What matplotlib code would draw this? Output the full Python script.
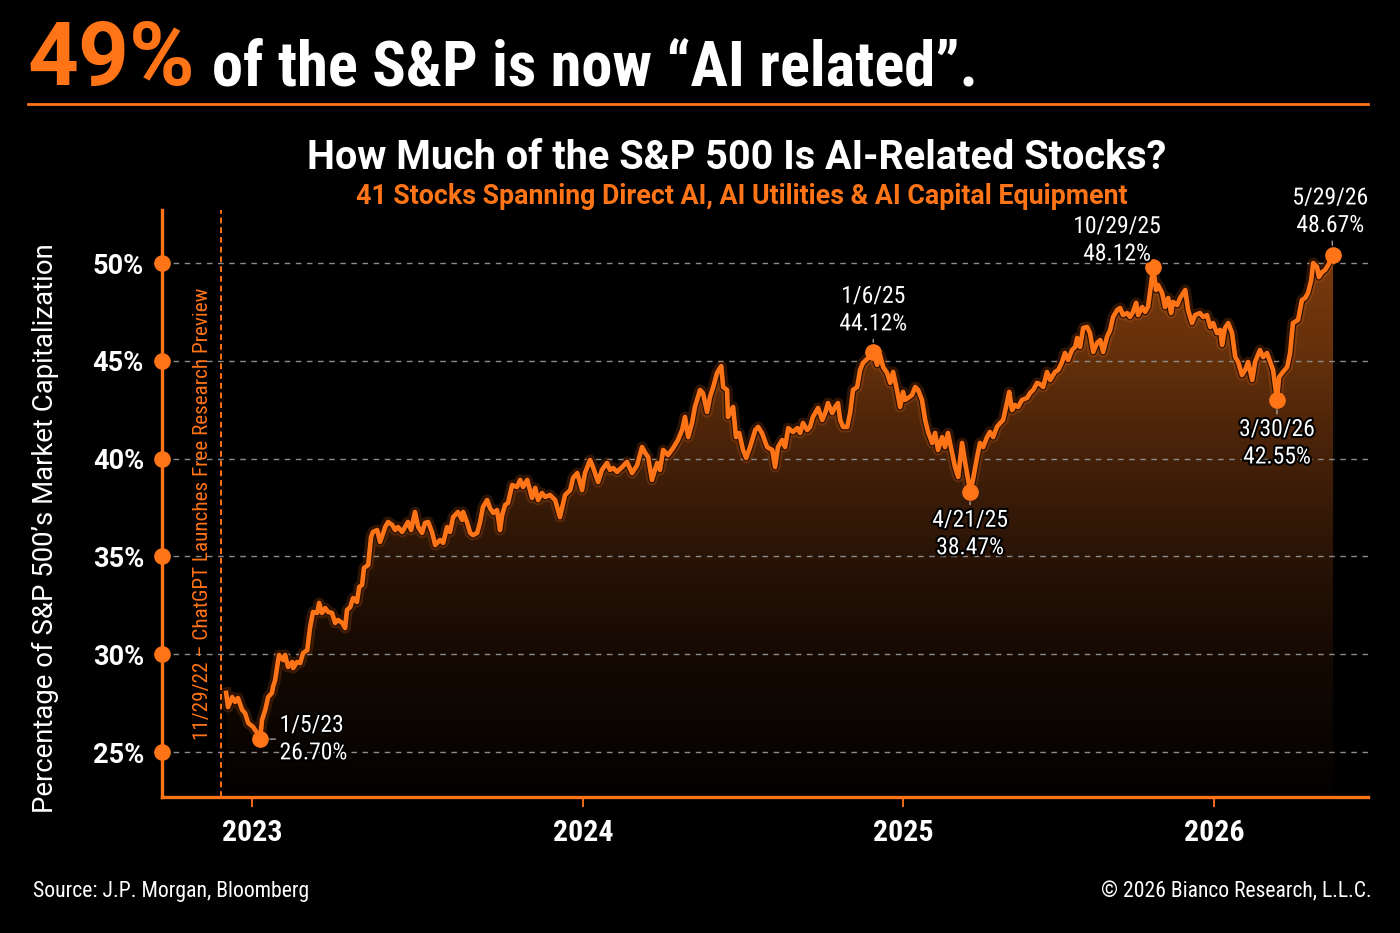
import numpy as np
import matplotlib
matplotlib.use('Agg')
import matplotlib.pyplot as plt
from matplotlib.lines import Line2D
from matplotlib.patches import PathPatch
from matplotlib.path import Path
import matplotlib.patheffects as pe
from matplotlib.colors import LinearSegmentedColormap

# ---------------- data ----------------
t_years = [
    2022.919, 2022.925, 2022.938, 2022.947, 2022.956, 2022.969, 2022.978, 2022.988, 2023.003, 2023.016,
    2023.025, 2023.031, 2023.041, 2023.050, 2023.062, 2023.065, 2023.072, 2023.078, 2023.084, 2023.097,
    2023.103, 2023.112, 2023.125, 2023.128, 2023.140, 2023.150, 2023.159, 2023.172, 2023.181, 2023.190,
    2023.203, 2023.209, 2023.218, 2023.228, 2023.237, 2023.249, 2023.259, 2023.268, 2023.281, 2023.290,
    2023.296, 2023.306, 2023.315, 2023.327, 2023.334, 2023.343, 2023.349, 2023.362, 2023.371, 2023.377,
    2023.390, 2023.399, 2023.409, 2023.415, 2023.424, 2023.437, 2023.446, 2023.455, 2023.468, 2023.477,
    2023.486, 2023.496, 2023.508, 2023.518, 2023.530, 2023.539, 2023.549, 2023.561, 2023.571, 2023.586,
    2023.596, 2023.608, 2023.617, 2023.627, 2023.642, 2023.655, 2023.658, 2023.670, 2023.680, 2023.689,
    2023.702, 2023.711, 2023.720, 2023.733, 2023.742, 2023.752, 2023.764, 2023.773, 2023.780, 2023.789,
    2023.798, 2023.811, 2023.826, 2023.836, 2023.845, 2023.858, 2023.873, 2023.883, 2023.892, 2023.904,
    2023.914, 2023.929, 2023.945, 2023.960, 2023.976, 2023.992, 2024.001, 2024.014, 2024.029, 2024.038,
    2024.054, 2024.063, 2024.079, 2024.091, 2024.107, 2024.116, 2024.126, 2024.138, 2024.154, 2024.169,
    2024.185, 2024.201, 2024.216, 2024.226, 2024.235, 2024.247, 2024.263, 2024.272, 2024.282, 2024.297,
    2024.313, 2024.328, 2024.341, 2024.350, 2024.360, 2024.372, 2024.381, 2024.397, 2024.406, 2024.419,
    2024.428, 2024.438, 2024.450, 2024.463, 2024.469, 2024.481, 2024.484, 2024.500, 2024.509, 2024.519,
    2024.531, 2024.541, 2024.553, 2024.569, 2024.578, 2024.590, 2024.606, 2024.622, 2024.631, 2024.640,
    2024.653, 2024.662, 2024.672, 2024.687, 2024.700, 2024.709, 2024.718, 2024.731, 2024.740, 2024.749,
    2024.765, 2024.778, 2024.787, 2024.796, 2024.809, 2024.818, 2024.827, 2024.834, 2024.843, 2024.856,
    2024.865, 2024.874, 2024.887, 2024.896, 2024.905, 2024.921, 2024.937, 2024.949, 2024.958, 2024.968,
    2024.980, 2024.990, 2024.999, 2025.011, 2025.021, 2025.030, 2025.036, 2025.046, 2025.058, 2025.068,
    2025.077, 2025.089, 2025.099, 2025.108, 2025.121, 2025.130, 2025.139, 2025.152, 2025.161, 2025.170,
    2025.183, 2025.192, 2025.202, 2025.214, 2025.224, 2025.233, 2025.239, 2025.248, 2025.261, 2025.270,
    2025.280, 2025.292, 2025.301, 2025.311, 2025.323, 2025.333, 2025.342, 2025.354, 2025.361, 2025.370,
    2025.379, 2025.389, 2025.401, 2025.417, 2025.426, 2025.436, 2025.448, 2025.457, 2025.467, 2025.479,
    2025.489, 2025.504, 2025.514, 2025.526, 2025.535, 2025.545, 2025.557, 2025.567, 2025.573, 2025.582,
    2025.592, 2025.604, 2025.613, 2025.623, 2025.635, 2025.645, 2025.654, 2025.666, 2025.676, 2025.685,
    2025.698, 2025.707, 2025.716, 2025.729, 2025.738, 2025.747, 2025.757, 2025.763, 2025.776, 2025.785,
    2025.794, 2025.804, 2025.810, 2025.819, 2025.825, 2025.838, 2025.847, 2025.857, 2025.866, 2025.872,
    2025.885, 2025.894, 2025.910, 2025.919, 2025.931, 2025.941, 2025.956, 2025.966, 2025.978, 2025.988,
    2025.997, 2026.009, 2026.019, 2026.025, 2026.034, 2026.044, 2026.056, 2026.066, 2026.075, 2026.087,
    2026.097, 2026.106, 2026.119, 2026.128, 2026.143, 2026.153, 2026.165, 2026.175, 2026.184, 2026.196,
    2026.203, 2026.215, 2026.228, 2026.237, 2026.246, 2026.262, 2026.274, 2026.284, 2026.293, 2026.303,
    2026.309, 2026.321, 2026.327, 2026.337, 2026.346, 2026.356, 2026.371,
]
pct = [
    28.02, 27.30, 27.81, 27.56, 27.76, 27.15, 26.99, 26.48, 26.28, 25.97,
    25.66, 26.64, 27.15, 27.81, 28.02, 28.32, 28.68, 29.35, 29.96, 29.70,
    29.96, 29.35, 29.60, 29.29, 29.60, 29.55, 30.06, 30.21, 31.39, 32.16,
    32.11, 32.62, 32.11, 32.36, 32.16, 32.11, 31.60, 31.75, 31.60, 31.34,
    32.26, 32.41, 32.87, 32.67, 33.44, 33.54, 34.41, 34.56, 35.99, 36.25,
    36.35, 35.74, 36.20, 36.50, 36.76, 36.61, 36.35, 36.50, 36.25, 36.50,
    36.76, 36.35, 37.27, 36.50, 36.20, 36.71, 36.76, 36.25, 35.58, 35.84,
    35.69, 36.50, 36.25, 37.01, 37.27, 36.86, 37.27, 36.76, 36.20, 36.09,
    36.20, 36.76, 37.53, 37.88, 37.47, 37.22, 37.37, 36.35, 37.12, 37.63,
    37.73, 38.65, 38.55, 38.91, 38.55, 38.91, 37.99, 38.50, 37.88, 38.24,
    38.04, 38.14, 37.88, 37.01, 38.14, 38.39, 39.01, 39.26, 38.39, 39.26,
    39.93, 39.57, 38.80, 39.42, 39.78, 39.42, 39.52, 39.32, 39.57, 39.83,
    39.26, 39.67, 40.59, 40.29, 40.08, 38.91, 39.78, 39.42, 40.44, 40.18,
    40.54, 40.95, 41.46, 42.13, 41.10, 41.82, 42.64, 43.51, 43.35, 42.38,
    43.15, 43.66, 44.38, 44.73, 43.66, 43.51, 42.13, 42.64, 41.10, 41.31,
    40.44, 40.03, 40.59, 41.46, 41.62, 41.31, 40.59, 40.44, 39.57, 40.59,
    40.95, 40.59, 41.56, 41.36, 41.56, 41.31, 41.82, 41.46, 41.62, 42.13,
    42.59, 41.97, 42.33, 42.84, 42.33, 42.64, 42.84, 41.97, 41.62, 41.62,
    42.33, 43.51, 43.66, 44.53, 44.89, 45.14, 45.45, 44.79, 45.30, 44.68,
    44.38, 43.87, 44.43, 43.51, 42.64, 43.41, 43.00, 43.10, 43.25, 43.66,
    43.51, 43.00, 41.97, 41.36, 40.80, 41.31, 40.44, 41.10, 40.59, 41.31,
    40.29, 39.57, 39.06, 40.80, 39.78, 38.91, 38.29, 38.91, 40.08, 40.80,
    40.59, 41.10, 41.36, 41.10, 41.62, 41.82, 41.97, 42.84, 43.41, 42.48,
    42.74, 42.64, 43.00, 43.10, 43.35, 43.51, 43.87, 43.81, 43.66, 44.43,
    44.02, 44.43, 44.53, 44.94, 45.40, 45.04, 45.55, 45.71, 46.17, 45.71,
    46.68, 46.73, 46.42, 45.45, 45.91, 46.06, 45.45, 46.22, 46.58, 47.24,
    47.60, 47.70, 47.34, 47.44, 47.24, 47.50, 47.96, 47.34, 47.75, 47.50,
    47.75, 48.98, 49.80, 48.62, 48.88, 48.47, 47.75, 48.21, 47.44, 48.01,
    47.85, 48.21, 48.62, 47.60, 46.93, 47.34, 47.44, 47.24, 47.34, 46.73,
    46.93, 46.42, 46.58, 45.81, 46.68, 46.93, 46.42, 45.19, 44.94, 44.27,
    44.53, 44.94, 44.02, 44.94, 45.55, 45.19, 45.40, 44.94, 44.53, 43.00,
    44.17, 44.43, 44.68, 45.40, 46.93, 47.09, 48.11, 48.21, 48.47, 49.13,
    50.00, 49.80, 49.28, 49.54, 49.64, 49.90, 50.41,
]

ann_t = [2023.025, 2024.937, 2025.239, 2025.810, 2026.196, 2026.371]
ann_labels = ['1/5/23\n26.70%', '1/6/25\n44.12%', '4/21/25\n38.47%',
              '10/29/25\n48.12%', '3/30/26\n42.55%', '5/29/26\n48.67%']

y_ticks = [25, 30, 35, 40, 45, 50]
y_tick_labels = ['25%', '30%', '35%', '40%', '45%', '50%']
x_tick_pos = [2023.0, 2024.032, 2025.030, 2026.0]
x_tick_labels = ['2023', '2024', '2025', '2026']
chatgpt_t = 2022.903
chatgpt_label = '11/29/22 – ChatGPT Launches Free Research Preview'

title_big = '49%'
title_rest = 'of the S&P is now \u201cAI related\u201d.'
subtitle = 'How Much of the S&P 500 Is AI-Related Stocks?'
subtitle2 = '41 Stocks Spanning Direct AI, AI Utilities & AI Capital Equipment'
y_label = 'Percentage of S&P 500\u2019s Market Capitalization'
source_txt = 'Source: J.P. Morgan, Bloomberg'
copyright_txt = '\u00a9 2026 Bianco Research, L.L.C.'

# ---------------- style ----------------
ORANGE = '#ff7417'
COND = ['Roboto Condensed', 'Roboto', 'DejaVu Sans']
NORM = ['Roboto', 'DejaVu Sans']
plt.rcParams['font.family'] = COND

W, H = 1400, 933
fig = plt.figure(figsize=(W / 100, H / 100), dpi=100, facecolor='black')

def fx(px):
    return px / W

def fy(py):
    return 1 - py / H

ax = fig.add_axes([fx(162), fy(797), fx(1368) - fx(162), fy(210) - fy(797)])
ax.set_facecolor('black')

xlo, xhi = 2022.719, 2026.480
ylo, yhi = 22.70, 52.71

t = np.array(t_years)
v = np.array(pct)

# gradient fill under curve (vertical, by level)
cmap = LinearSegmentedColormap.from_list('g', [
    (0.00, '#030100'), (0.08, '#080401'), (0.27, '#160a03'), (0.45, '#2a1406'),
    (0.63, '#462109'), (0.81, '#64300b'), (1.00, '#7a3a0e')])
grad = np.linspace(0, 1, 256).reshape(-1, 1)
im = ax.imshow(grad, extent=[xlo, xhi, ylo, 50.5], origin='lower', aspect='auto',
               cmap=cmap, zorder=1, interpolation='bicubic')
verts = np.vstack([np.column_stack([t, v]), [[t[-1], ylo], [t[0], ylo], [t[0], v[0]]]])
clip = PathPatch(Path(verts, closed=True), transform=ax.transData,
                 facecolor='none', edgecolor='none')
ax.add_patch(clip)
im.set_clip_path(clip)

# gridlines
for yv in y_ticks:
    ax.axhline(yv, color='#8c8c8c', lw=1.0, ls=(0, (4, 4)), zorder=2)

# vertical ChatGPT marker
ax.axvline(chatgpt_t, color=ORANGE, lw=1.4, ls=(0, (3, 2)), zorder=2)
ax.annotate(chatgpt_label, xy=(chatgpt_t, 37.17), xytext=(-13, 0), textcoords='offset points',
            rotation=90, ha='center', va='center', color=ORANGE, fontsize=15.2)

# line with glow and dark edge
ax.plot(t, v, color=ORANGE, lw=8, alpha=0.18, zorder=3, solid_joinstyle='round')
ax.plot(t, v, color=ORANGE, lw=3.3, zorder=4, solid_joinstyle='round',
        path_effects=[pe.Stroke(linewidth=5.0, foreground='#2a1000'), pe.Normal()])

# annotations
offsets = [(14, 0), (0, 12), (0, -12), (-26, 1), (0, -13), (-2, 13)]
aligns = [('left', 'center'), ('center', 'bottom'), ('center', 'top'),
          ('center', 'bottom'), ('center', 'top'), ('center', 'bottom')]
leaders = [True, True, True, False, True, True]
for at, lab, off, (ha, va), lead in zip(ann_t, ann_labels, offsets, aligns, leaders):
    i = int(np.argmin(np.abs(t - at)))
    ax.plot(t[i], v[i], 'o', color=ORANGE, ms=11, zorder=6)
    ap = dict(arrowstyle='-', color='#b0b0b0', lw=0.9, shrinkA=1, shrinkB=7) if lead else None
    ax.annotate(lab, xy=(t[i], v[i]), xytext=off, textcoords='offset points',
                ha=ha, va=va, color='white', fontsize=17, linespacing=1.25,
                multialignment='center' if ha == 'center' else 'left',
                arrowprops=ap, zorder=7,
                path_effects=[pe.withStroke(linewidth=3, foreground='black')])

# axes styling
ax.set_xlim(xlo, xhi)
ax.set_ylim(ylo, yhi)
for s in ['top', 'right']:
    ax.spines[s].set_visible(False)
for s in ['left', 'bottom']:
    ax.spines[s].set_color(ORANGE)
    ax.spines[s].set_linewidth(2.4)
    ax.spines[s].set_zorder(8)

ax.set_yticks(y_ticks)
ax.set_yticklabels(y_tick_labels, color='white', fontsize=19.5, fontweight='bold', family=NORM)
ax.tick_params(axis='y', length=0, pad=13)
ax.plot(np.full(len(y_ticks), xlo), y_ticks, 'o', color=ORANGE, ms=11, clip_on=False, zorder=9)

ax.set_xticks(x_tick_pos)
ax.set_xticklabels(x_tick_labels, color='white', fontsize=21.5, fontweight='bold')
ax.tick_params(axis='x', length=7, width=1.3, color=ORANGE, pad=9)

# titles & text
fig.text(fx(28), fy(85), title_big, color=ORANGE, fontsize=64, fontweight='bold',
         ha='left', va='baseline', family=NORM)
fig.text(fx(212), fy(85), title_rest, color='white', fontsize=45, fontweight='bold',
         ha='left', va='baseline')
fig.add_artist(Line2D([fx(28), fx(1368)], [fy(104), fy(104)], color=ORANGE, lw=2))

fig.text(fx(737), fy(169), subtitle, color='white', fontsize=28.5, fontweight='bold',
         ha='center', va='baseline', family=NORM)
fig.text(fx(742), fy(204), subtitle2, color=ORANGE, fontsize=19.3, fontweight='bold',
         ha='center', va='baseline', family=NORM)

fig.text(fx(45), fy(528), y_label, color='white', fontsize=19.8, rotation=90,
         ha='center', va='center', family=NORM)

fig.text(fx(33), fy(897), source_txt, color='white', fontsize=15.7, ha='left', va='baseline')
fig.text(fx(1372), fy(897), copyright_txt, color='white', fontsize=15.6, ha='right', va='baseline')

fig.savefig('out.png', dpi=100, facecolor='black')
